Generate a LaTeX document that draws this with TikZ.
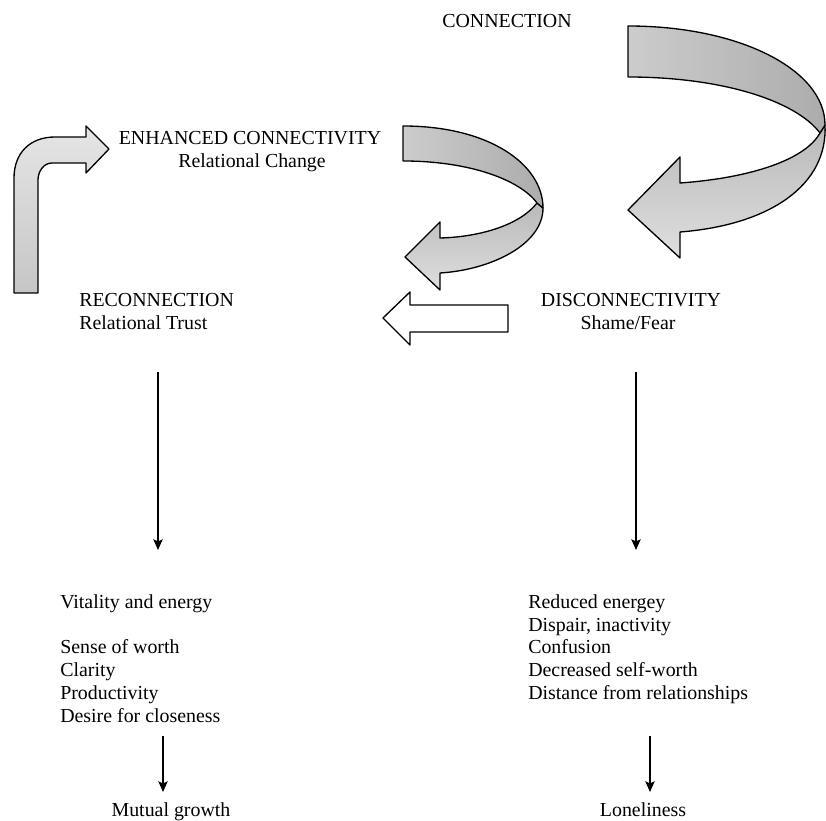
\documentclass[tikz,border=0pt]{standalone}
\usepackage{fontspec}
\setmainfont{Liberation Serif}
\usetikzlibrary{arrows.meta,positioning}

\begin{document}
\begin{tikzpicture}[x=0.0265cm,y=0.0265cm,>={Stealth[length=8pt,width=7pt,inset=1.5pt]},
  title/.style={font=\fontsize{15}{17.3}\selectfont,inner sep=0,anchor=base},
  list/.style={font=\fontsize{15}{17.3}\selectfont,inner sep=0,align=left,anchor=north west},
  flow/.style={->,line width=1.1pt},
  band/.style={draw=black,line width=1pt,line join=round}]
    \useasboundingbox (0,0) rectangle (826,821);

    % headings
    \node[title](conn) at (507,793){CONNECTION};
    \node[title](enh) at (250,676){ENHANCED CONNECTIVITY};
    \node[title](enhsub) at (252,653){Relational Change};
    \node[title,anchor=base west](rec) at (79,514){RECONNECTION};
    \node[title,anchor=base west](recsub) at (79,491){Relational Trust};
    \node[title](dis) at (631,514){DISCONNECTIVITY};
    \node[title](dissub) at (628,491){Shame/Fear};

    % lists and outcomes
    \node[list](good) at (60,227){Vitality and energy\\[17.3pt]Sense of worth\\Clarity\\Productivity\\Desire for closeness};
    \node[list](bad) at (528,227){Reduced energey\\Dispair, inactivity\\Confusion\\Decreased self-worth\\Distance from relationships};
    \node[title](growth) at (171,4){Mutual growth};
    \node[title](lonely) at (643,4){Loneliness};

    % thin arrows
    \coordinate (la1) at (158,449); \coordinate (la2) at (158,271);
    \coordinate (ra1) at (636,449); \coordinate (ra2) at (636,271);
    \coordinate (lb1) at (163,85);  \coordinate (lb2) at (163,29);
    \coordinate (rb1) at (650,85);  \coordinate (rb2) at (650,29);
    \draw[flow] (la1) -- (la2);
    \draw[flow] (ra1) -- (ra2);
    \draw[flow] (lb1) -- (lb2);
    \draw[flow] (rb1) -- (rb2);

    % bent arrow up to enhanced connectivity
    \draw[band,top color=gray!20,bottom color=gray!45]
      (14,528) -- (14,643) .. controls (14,668) and (30,684) .. (55,684)
      -- (86,684) -- (86,695) -- (109,672) -- (86,648) -- (86,658) -- (52,658)
      .. controls (44,658) and (38,650) .. (38,641) -- (38,528) -- cycle;

    % small curved arrow
    \draw[band,top color=gray!55,bottom color=gray!25]
      (543,613) .. controls (543,576) and (490,551) .. (440,548)
      -- (440,531) -- (405,564) -- (440,599) -- (440,583)
      .. controls (480,584) and (520,596) .. (537,618) -- cycle;
    \draw[band,left color=gray!40,right color=gray!65]
      (403,695) .. controls (490,695) and (543,656) .. (543,613)
      -- (537,618) .. controls (520,641) and (470,660) .. (403,660) -- cycle;

    % big curved arrow
    \draw[band,top color=gray!55,bottom color=gray!25]
      (825,696) .. controls (828,636) and (770,596) .. (680,589)
      -- (680,563) -- (628,611) -- (680,664) -- (680,638)
      .. controls (750,643) and (805,661) .. (820,688) -- cycle;
    \draw[band,left color=gray!40,right color=gray!65]
      (628,795) .. controls (740,795) and (825,751) .. (825,696)
      -- (820,688) .. controls (795,721) and (720,744) .. (628,744) -- cycle;

    % white arrow back to reconnection
    \draw[band,fill=white]
      (508,516) -- (410,516) -- (410,529) -- (383,503) -- (410,476)
      -- (410,489) -- (508,489) -- cycle;

\end{tikzpicture}
\end{document}
